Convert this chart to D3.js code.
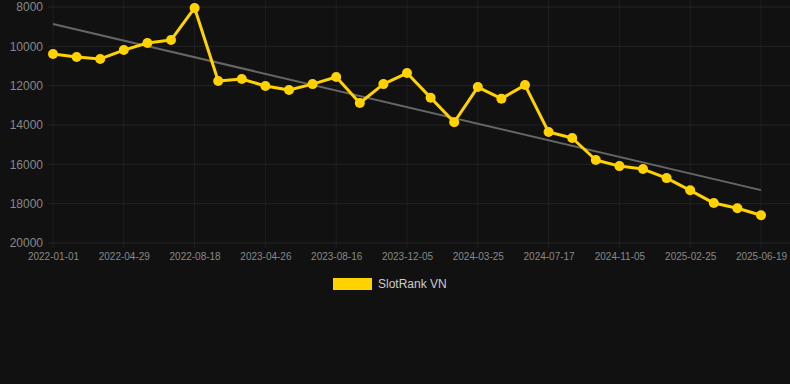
<!DOCTYPE html>
<html><head><meta charset="utf-8">
<script src="https://cdn.jsdelivr.net/npm/d3@7"></script>
<style>html,body{margin:0;padding:0;background:#111111;}svg{display:block;}</style>
</head><body>
<svg id="c" width="790" height="384"></svg>
<script>
const dates = ["2022-01-01","2022-02-09","2022-03-20","2022-04-29","2022-06-07","2022-07-16","2022-08-18","2022-09-26","2022-11-04","2023-04-26","2023-06-04","2023-07-13","2023-08-16","2023-09-24","2023-11-02","2023-12-05","2024-01-13","2024-02-21","2024-03-25","2024-05-03","2024-06-11","2024-07-17","2024-08-25","2024-10-03","2024-11-05","2024-12-14","2025-01-22","2025-02-25","2025-04-05","2025-05-14","2025-06-19"];
const ranks = [10390,10540,10640,10190,9830,9680,8050,11760,11660,12020,12220,11920,11560,12880,11920,11360,12610,13860,12070,12660,11970,14360,14660,15780,16090,16240,16700,17320,17970,18230,18590];
const yTicks = [8000,10000,12000,14000,16000,18000,20000];
const seriesName = "SlotRank VN";

const svg = d3.select("#c");
const m = {l:53, r:761, t:7, b:243};
const x = d3.scalePoint().domain(dates).range([m.l, m.r]);
const y = d3.scaleLinear().domain([8000,20000]).range([m.t, m.b]);
const labelDates = dates.filter((d,i)=>i%3===0);
const gridColor = "#242424";

// grid
svg.append("g").selectAll("line").data(labelDates).join("line")
  .attr("x1", d=>x(d)).attr("x2", d=>x(d)).attr("y1", 0).attr("y2", m.b + 5)
  .attr("stroke", "#1f1f1f").attr("stroke-width",1);
svg.append("g").selectAll("line").data(yTicks).join("line")
  .attr("x1", 48).attr("x2", 790).attr("y1", d=>y(d)).attr("y2", d=>y(d))
  .attr("stroke", gridColor).attr("stroke-width",1);

// axes
const yAxis = svg.append("g").attr("transform",`translate(${m.l - 10},0)`)
  .call(d3.axisLeft(y).tickValues(yTicks).tickSize(0).tickPadding(0).tickFormat(d3.format("d")));
yAxis.select(".domain").remove();
yAxis.selectAll("text").attr("fill","#888").attr("font-size","12px").attr("font-family","Liberation Sans, Arial, sans-serif");

const xAxis = svg.append("g").attr("transform",`translate(0,${m.b})`)
  .call(d3.axisBottom(x).tickValues(labelDates).tickSize(0).tickPadding(10));
xAxis.select(".domain").remove();
xAxis.selectAll("text").attr("fill","#888").attr("font-size","10px").attr("font-family","Liberation Sans, Arial, sans-serif");

// trend (linear regression)
const n = ranks.length;
const xs = d3.range(n);
const mx = d3.mean(xs), my = d3.mean(ranks);
const slope = d3.sum(xs.map((xi,i)=>(xi-mx)*(ranks[i]-my))) / d3.sum(xs.map(xi=>(xi-mx)*(xi-mx)));
const icpt = my - slope*mx;
svg.append("line")
  .attr("x1", x(dates[0])).attr("y1", y(icpt))
  .attr("x2", x(dates[n-1])).attr("y2", y(icpt + slope*(n-1)))
  .attr("stroke","#666").attr("stroke-width",2);

// series
const line = d3.line().x((d,i)=>x(dates[i])).y(d=>y(d));
svg.append("path").datum(ranks).attr("d", line)
  .attr("fill","none").attr("stroke","#ffd200").attr("stroke-width",3).attr("stroke-linejoin","round");
svg.append("g").selectAll("circle").data(ranks).join("circle")
  .attr("cx",(d,i)=>x(dates[i])).attr("cy",d=>y(d)).attr("r",5).attr("fill","#ffd200");

// legend
svg.append("rect").attr("x",333).attr("y",278).attr("width",39).attr("height",12).attr("fill","#ffd200");
svg.append("text").attr("x",378).attr("y",288).text(seriesName)
  .attr("fill","#ccc").attr("font-size","12px").attr("font-family","Liberation Sans, Arial, sans-serif");
</script>
</body></html>
